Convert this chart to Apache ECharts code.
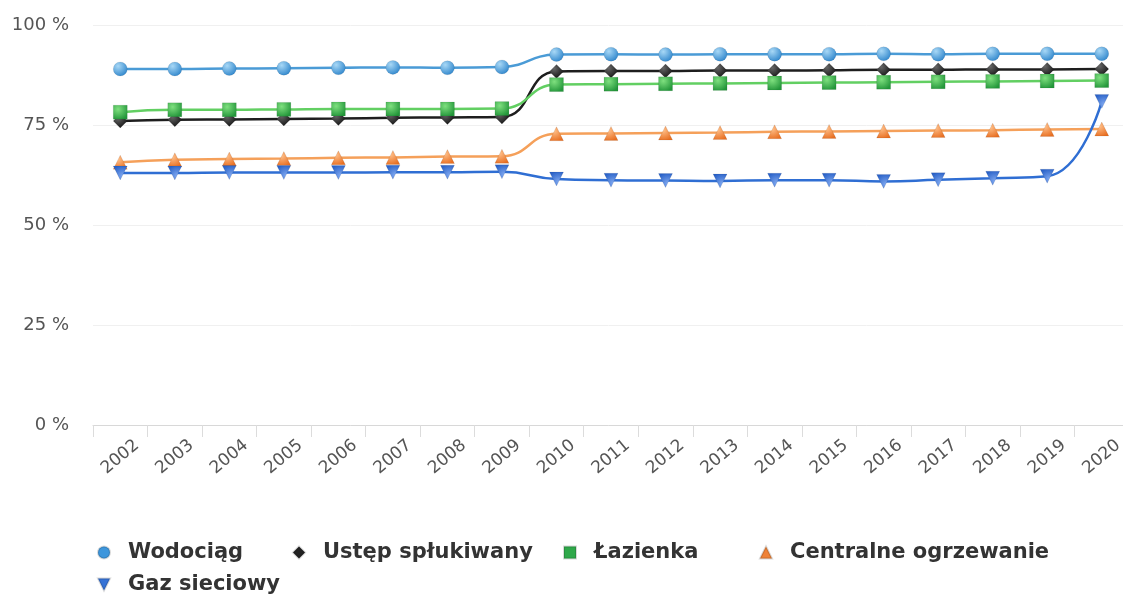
<!DOCTYPE html>
<html lang="pl">
<head>
    <meta charset="UTF-8">
    <title>Wyposażenie mieszkań</title>
    <script src="https://cdn.jsdelivr.net/npm/echarts@6/dist/echarts.min.js"></script>
    <style>
        html, body { margin: 0; padding: 0; background: #fff; }
        #chart { width: 1123px; height: 598px; }
    </style>
</head>
<body>
<div id="chart"></div>
<script type="text/javascript">
    var years = ['2002', '2003', '2004', '2005', '2006', '2007', '2008', '2009', '2010', '2011',
                 '2012', '2013', '2014', '2015', '2016', '2017', '2018', '2019', '2020'];
    var yTicks = [0, 25, 50, 75, 100];

    var wodociag = [89.0, 89.0, 89.1, 89.2, 89.3, 89.4, 89.3, 89.5, 92.6, 92.7, 92.6, 92.7, 92.7, 92.7, 92.8, 92.7, 92.8, 92.8, 92.8];
    var ustep    = [76.0, 76.3, 76.4, 76.5, 76.6, 76.8, 76.9, 77.0, 88.4, 88.5, 88.5, 88.6, 88.6, 88.7, 88.8, 88.8, 88.9, 88.9, 89.0];
    var lazienka = [78.2, 78.8, 78.8, 78.9, 79.0, 79.0, 79.0, 79.1, 85.1, 85.2, 85.3, 85.4, 85.5, 85.6, 85.7, 85.8, 85.9, 86.0, 86.1];
    var ogrzew   = [65.7, 66.3, 66.5, 66.6, 66.8, 66.9, 67.1, 67.2, 72.8, 72.9, 73.0, 73.1, 73.3, 73.4, 73.5, 73.6, 73.7, 73.9, 74.0];
    var gaz      = [63.0, 63.0, 63.1, 63.1, 63.1, 63.2, 63.2, 63.3, 61.5, 61.2, 61.1, 61.0, 61.2, 61.2, 60.9, 61.3, 61.7, 62.2, 80.9];

    var chart = echarts.init(document.getElementById('chart'));

    function ball(light, dark) {
        return new echarts.graphic.RadialGradient(0.35, 0.3, 0.75, [
            { offset: 0, color: light },
            { offset: 1, color: dark }
        ]);
    }

    function line(name, data, lineColor, markColor, symbol, size, rotate) {
        return {
            name: name,
            type: 'line',
            data: data,
            smooth: true,
            symbol: symbol,
            symbolSize: size,
            symbolRotate: rotate || 0,
            showAllSymbol: true,
            lineStyle: { color: lineColor, width: 2.5 },
            itemStyle: { color: markColor, borderColor: 'rgba(0,0,0,0.15)', borderWidth: 0.5 },
            emphasis: { disabled: true }
        };
    }

    var legendText = { fontFamily: 'DejaVu Sans', fontSize: 21, fontWeight: 'bold', color: '#333', padding: [0, 0, 0, 13] };
    function legendItem(name, icon, left, top, color) {
        return {
            data: [{ name: name, icon: icon, itemStyle: { color: color } }],
            left: left, top: top,
            padding: 0,
            itemWidth: 12, itemHeight: 12, itemGap: 0,
            textStyle: legendText,
            selectedMode: false
        };
    }

    var option = {
        animation: false,
        textStyle: { fontFamily: 'DejaVu Sans' },
        grid: { left: 93, right: -6, top: 25, bottom: 173, outerBoundsMode: 'none' },
        legend: [
            legendItem('Wodociąg', 'circle', 97, 542, '#3d96dc'),
            legendItem('Ustęp spłukiwany', 'diamond', 292, 542, '#222'),
            legendItem('Łazienka', 'rect', 563, 542, '#2fa84a'),
            legendItem('Centralne ogrzewanie', 'triangle', 759, 542, '#ef8237'),
            legendItem('Gaz sieciowy', 'path://M0,0 L10,0 L5,10 Z', 97, 574, '#3572d6')
        ],
        xAxis: {
            type: 'category',
            data: years,
            boundaryGap: true,
            axisLine: { lineStyle: { color: '#d8d8d8', width: 1 } },
            axisTick: { show: true, length: 12, lineStyle: { color: '#dcdcdc' } },
            axisLabel: { rotate: 40, fontSize: 17, color: '#555', margin: 32, align: 'center', verticalAlign: 'middle' },
            splitLine: { show: false }
        },
        yAxis: {
            type: 'value',
            min: yTicks[0],
            max: yTicks[yTicks.length - 1],
            interval: 25,
            axisLine: { show: false },
            axisTick: { show: false },
            axisLabel: { formatter: '{value} %', fontSize: 18, color: '#555', margin: 24 },
            splitLine: { lineStyle: { color: '#f0f0f0' } }
        },
        series: [
            line('Wodociąg', wodociag, '#4a9bd6', ball('#a8d8f6', '#2f86cc'), 'circle', 14),
            line('Ustęp spłukiwany', ustep, '#1e1e1e', ball('#666', '#111'), 'diamond', 14),
            line('Łazienka', lazienka, '#62cf62', ball('#7fe07f', '#23963a'), 'rect', 14),
            line('Centralne ogrzewanie', ogrzew, '#f5a05a', ball('#ffc08a', '#e86f22'), 'triangle', 14),
            line('Gaz sieciowy', gaz, '#2f6ed3', ball('#7fa8f0', '#2a62c8'), 'triangle', 14, 180)
        ]
    };
    chart.setOption(option);
</script>
</body>
</html>
